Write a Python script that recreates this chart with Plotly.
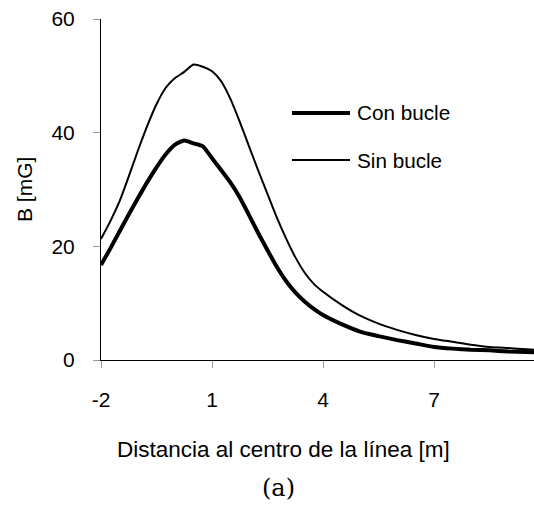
import plotly.graph_objects as go

x_vals = [-2, -1.75, -1.5, -1.25, -1, -0.75, -0.5, -0.25, 0, 0.25, 0.5, 0.75, 1, 1.25, 1.5, 1.75,
          2, 2.25, 2.5, 2.75, 3, 3.25, 3.5, 3.75, 4, 4.5, 5, 5.5, 6, 6.5, 7, 7.5, 8, 8.5, 9, 9.5, 10]
con_bucle = [16.7, 19.6, 22.6, 25.6, 28.5, 31.3, 33.9, 36.2, 37.9, 38.6, 38.1, 37.6, 35.5, 33.4, 31.2, 28.6,
             25.5, 22.3, 19.3, 16.4, 13.9, 11.9, 10.3, 9.0, 7.9, 6.3, 5.0, 4.2, 3.5, 2.9, 2.3, 2.0, 1.8, 1.7, 1.5, 1.4, 1.3]
sin_bucle = [21.3, 24.4, 27.9, 32.3, 36.9, 41.2, 45.0, 47.9, 49.6, 50.7, 52.0, 51.6, 50.8, 49.0, 45.9, 41.9,
             37.6, 33.3, 29.2, 25.1, 21.4, 18.1, 15.4, 13.4, 12.0, 9.7, 7.8, 6.4, 5.3, 4.4, 3.7, 3.2, 2.7, 2.3, 2.1, 1.9, 1.7]
x_ticks = [-2, 1, 4, 7]
x_tick_text = ["-2", "1", "4", "7"]
y_ticks = [0, 20, 40, 60]
series_names = ["Con bucle", "Sin bucle"]

W, H = 534, 505
L, R, T, B = 101, 0, 19, 145
FONT = "Liberation Sans, Arial, sans-serif"

fig = go.Figure()
fig.add_trace(go.Scatter(x=x_vals, y=con_bucle, mode="lines", name=series_names[0],
                         line=dict(color="black", width=4, shape="spline", smoothing=0.6), showlegend=False))
fig.add_trace(go.Scatter(x=x_vals, y=sin_bucle, mode="lines", name=series_names[1],
                         line=dict(color="black", width=2, shape="spline", smoothing=0.6), showlegend=False))

def px_to_paper_x(px):
    return (px - L) / (W - L - R)

def px_to_paper_y(py):
    return (H - B - py) / (H - T - B)

# legend drawn manually
leg = [(series_names[0], 4, 113), (series_names[1], 2, 160)]
for name, lw, ypx in leg:
    fig.add_shape(type="line", xref="paper", yref="paper",
                  x0=px_to_paper_x(292), x1=px_to_paper_x(350),
                  y0=px_to_paper_y(ypx), y1=px_to_paper_y(ypx),
                  line=dict(color="black", width=lw))
    fig.add_annotation(text=name, xref="paper", yref="paper",
                       x=px_to_paper_x(355), y=px_to_paper_y(ypx),
                       xanchor="left", yanchor="middle", showarrow=False,
                       font=dict(family=FONT, size=20.7, color="black"))

fig.add_annotation(text="Distancia al centro de la línea [m]", xref="paper", yref="paper",
                   x=px_to_paper_x(283), y=px_to_paper_y(449), xanchor="center", yanchor="middle",
                   showarrow=False, font=dict(family=FONT, size=22.5, color="black"))
fig.add_annotation(text="(a)", xref="paper", yref="paper",
                   x=px_to_paper_x(278), y=px_to_paper_y(488), xanchor="center", yanchor="middle",
                   showarrow=False, font=dict(family="DejaVu Serif, serif", size=24, color="black"))
fig.add_annotation(text="B [mG]", xref="paper", yref="paper", textangle=-90,
                   x=px_to_paper_x(24), y=px_to_paper_y(190), xanchor="center", yanchor="middle",
                   showarrow=False, font=dict(family=FONT, size=21, color="black"))

fig.update_layout(
    width=W, height=H, margin=dict(l=L, r=R, t=T, b=B),
    paper_bgcolor="white", plot_bgcolor="white",
    font=dict(family=FONT, size=21, color="black"),
    xaxis=dict(range=[-2, 9.7], tickvals=x_ticks, ticktext=x_tick_text, ticks="outside", ticklen=7,
               tickcolor="#999", tickwidth=1, showline=True, linecolor="black", linewidth=1,
               showgrid=False, zeroline=False, ticklabelstandoff=14),
    yaxis=dict(range=[0, 60], tickvals=y_ticks, ticks="outside", ticklen=7, tickcolor="#999",
               tickwidth=1, showline=True, linecolor="black", linewidth=1, showgrid=False,
               zeroline=False, ticklabelstandoff=14),
)
fig.write_html("out.html")
